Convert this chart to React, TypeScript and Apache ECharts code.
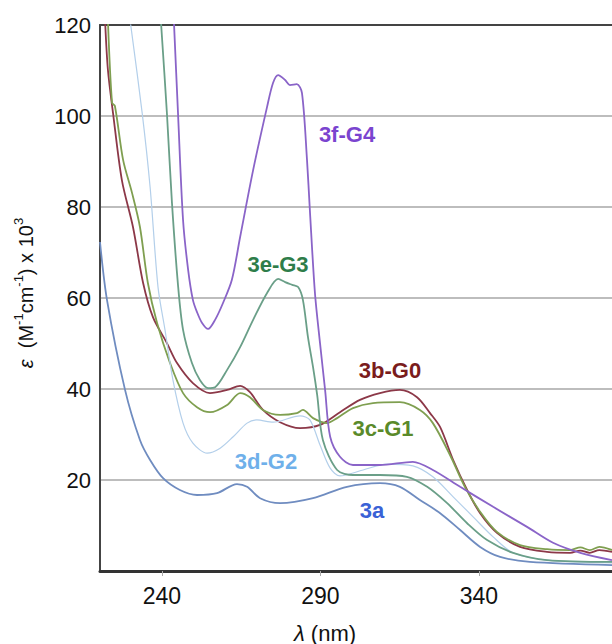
import React, { useEffect, useRef } from "react";
import * as echarts from "echarts";

const xTicks = [240, 290, 340];
const yTicks = [20, 40, 60, 80, 100, 120];

const s3a: [number, number][] = [
  [220.5, 72.3], [222.7, 59.6], [228.4, 39.8], [233.1, 28.8], [236.3, 24.4], [240.4, 20.4],
  [245.7, 17.8], [251.1, 16.7], [257.4, 17.1], [263.7, 19.1], [266.9, 18.5], [271.0, 16.0],
  [277.3, 14.9], [287.7, 16.0], [298.4, 18.5], [308.8, 19.3], [315.1, 18.5], [321.4, 15.6],
  [327.8, 12.7], [334.1, 9.0], [340.4, 5.3], [346.7, 3.1], [356.1, 2.0], [382, 1.3],
];
const s3b: [number, number][] = [
  [222.1, 121], [223.0, 110.1], [224.6, 100.7], [227.4, 85.9], [230.9, 75.6], [234.1, 63.3],
  [237.2, 55.8], [241.6, 50.1], [244.8, 45.7], [249.8, 41.3], [255.2, 39.1], [260.6, 39.8],
  [264.7, 40.7], [267.8, 39.3], [271.9, 35.4], [277.3, 32.7], [283.6, 31.4], [289.9, 32.1],
  [296.2, 34.9], [302.5, 37.6], [308.8, 39.1], [315.1, 39.8], [320.5, 38.2], [324.6, 34.7],
  [327.8, 31.6], [331.9, 24.4], [336.3, 17.8], [340.4, 12.7], [345.7, 8.4], [353.0, 5.3],
  [361.5, 4.2], [368.8, 4.0], [372, 4.5], [375, 4.0], [378, 4.6], [382, 4.2],
];
const s3c: [number, number][] = [
  [223.0, 121], [224.3, 102.9], [225.2, 102.2], [227.8, 90.3], [230.6, 83.1], [233.1, 75.6],
  [235.6, 63.3], [238.5, 54.5], [242.6, 45.7], [246.7, 39.1], [251.1, 36.0], [255.2, 34.9],
  [260.6, 36.5], [264.7, 39.1], [267.8, 38.2], [271.9, 35.4], [277.3, 34.3], [282.6, 34.7],
  [284.5, 35.4], [287.7, 33.6], [292.1, 32.5], [295.3, 33.6], [300.3, 35.8], [306.6, 36.9],
  [315.1, 37.1], [321.4, 35.4], [325.5, 32.5], [330.9, 25.5], [335.6, 18.5], [340.4, 13.0],
  [345.7, 8.6], [353.0, 5.7], [361.5, 4.8], [368.8, 4.6], [372, 5.2], [375, 4.6], [378, 5.3], [382, 4.6],
];
const s3d: [number, number][] = [
  [230.0, 121], [233.8, 100.7], [236.3, 84.4], [238.8, 62.4], [241.0, 53.0], [243.5, 42.0],
  [246.7, 32.5], [249.8, 28.1], [254.3, 25.9], [258.4, 27.0], [262.5, 29.5], [266.9, 32.5],
  [270.0, 33.2], [275.1, 32.7], [283.6, 34.1], [286.7, 33.2], [289.9, 27.7], [293.1, 22.6],
  [296.2, 20.9], [303.5, 22.2], [311.0, 23.5], [319.2, 23.1], [325.5, 20.7], [331.9, 16.3],
  [338.2, 11.9], [344.5, 7.5], [350.8, 4.0], [361.5, 2.4], [382, 1.8],
];
const s3e: [number, number][] = [
  [239.7, 121], [241.6, 100.7], [243.2, 80.9], [245.1, 62.9], [246.7, 53.0], [249.5, 45.7],
  [252.0, 42.0], [254.6, 40.2], [256.8, 40.4], [260.6, 44.2], [264.7, 49.2], [268.8, 55.2],
  [273.2, 61.1], [276.7, 64.2], [278.9, 63.5], [281.1, 62.9], [283.0, 62.4], [284.5, 59.6],
  [286.1, 51.4], [287.7, 44.8], [289.0, 38.7], [290.8, 28.8], [295.3, 22.2], [300.3, 21.1],
  [308.8, 21.1], [317.3, 20.7], [323.7, 18.5], [330.0, 14.9], [336.3, 10.5], [342.6, 6.8],
  [350.8, 4.0], [361.5, 2.4], [382, 2.0],
];
const s3f: [number, number][] = [
  [243.8, 121], [245.1, 100.7], [246.7, 77.1], [248.3, 66.2], [249.8, 59.6], [251.1, 56.9],
  [252.7, 54.5], [254.6, 53.2], [256.8, 55.2], [259.3, 58.9], [262.1, 64.0], [264.7, 73.4],
  [268.8, 88.1], [273.2, 102.0], [275.1, 107.3], [276.7, 109.0], [278.9, 107.9], [280.4, 106.8],
  [282.6, 107.0], [284.2, 105.1], [285.8, 90.3], [286.7, 79.3], [288.3, 61.1], [289.9, 50.1],
  [291.5, 39.8], [293.1, 29.5], [296.2, 25.1], [300.3, 23.3], [308.8, 23.3], [319.2, 24.0],
  [325.5, 22.2], [334.1, 18.5], [344.5, 14.1], [355.2, 9.7], [363.4, 6.2], [372.0, 4.0], [382, 2.4],
];

const seriesNames = ["3a", "3b-G0", "3c-G1", "3d-G2", "3e-G3", "3f-G4"];
const seriesData = [s3a, s3b, s3c, s3d, s3e, s3f];
const lineColors = ["#6f8cc0", "#8c3848", "#7f9f50", "#b3cfea", "#6a9f88", "#8a64c8"];
const labelColors = ["#3a62d6", "#7a1c1c", "#5a8a2a", "#6fb0ea", "#2e7d4a", "#7a44cf"];
const labelPos: [number, number][] = [
  [372, 510], [390, 370], [383, 428], [266, 461], [278, 264], [347, 134],
];

const FONT = "'Liberation Sans', Arial, Helvetica, sans-serif";

export default function App() {
  const ref = useRef<HTMLDivElement>(null);
  useEffect(() => {
    if (!ref.current) return;
    const chart = echarts.init(ref.current, null, { renderer: "svg" });
    const xMin = 220.5;
    const xMax = 382;
    const n = { fontSize: 22, fontFamily: FONT, fill: "#111", lineHeight: 30, verticalAlign: "middle" };
    const ny = { fontSize: 20, fontFamily: FONT, fill: "#111", lineHeight: 28, verticalAlign: "middle" };
    chart.setOption({
      animation: false,
      backgroundColor: "#ffffff",
      grid: { left: 100, right: 0, top: 25, bottom: 73 },
      xAxis: [
        {
          type: "value",
          min: xMin,
          max: xMax,
          axisLine: { show: true, onZero: false, lineStyle: { color: "#333", width: 3 } },
          axisTick: { show: true, customValues: xTicks, length: 5, lineStyle: { color: "#aaa", width: 1 } },
          axisLabel: {
            customValues: xTicks,
            fontSize: 23,
            color: "#111",
            fontFamily: FONT,
            margin: 13,
          },
          splitLine: { show: false },
        },
        {
          type: "value",
          position: "top",
          min: xMin,
          max: xMax,
          axisLine: { show: true, onZero: false, lineStyle: { color: "#444", width: 2 } },
          axisTick: { show: false },
          axisLabel: { show: false },
          splitLine: { show: false },
        },
      ],
      yAxis: {
        type: "value",
        min: 0,
        max: 120,
        interval: 20,
        axisLine: { show: true, onZero: false, lineStyle: { color: "#444", width: 2 } },
        axisTick: { show: false },
        axisLabel: {
          fontSize: 22,
          color: "#111",
          fontFamily: FONT,
          margin: 9,
          formatter: (v: number) => (yTicks.includes(v) ? String(v) : ""),
        },
        splitLine: { show: true, lineStyle: { color: "#bdbdbd", width: 2 } },
      },
      series: seriesData.map((d, i) => ({
        name: seriesNames[i],
        type: "line",
        data: d,
        xAxisIndex: 0,
        showSymbol: false,
        smooth: 0.3,
        clip: true,
        lineStyle: { color: lineColors[i], width: i === 3 ? 1.2 : 1.8 },
        z: 2,
      })),
      graphic: [
        ...seriesNames.map((nm, i) => ({
          type: "text",
          x: labelPos[i][0],
          y: labelPos[i][1],
          style: {
            text: nm,
            fill: labelColors[i],
            font: `bold 22px ${FONT}`,
            align: "center",
            verticalAlign: "middle",
          },
          z: 10,
        })),
        {
          type: "text",
          x: 325,
          y: 633,
          style: {
            text: "{i|λ}{n| (nm)}",
            align: "center",
            verticalAlign: "middle",
            fill: "#111",
            font: `22px ${FONT}`,
            rich: {
              i: { ...n, fontStyle: "italic" },
              n,
            },
          },
        },
        {
          type: "text",
          x: 26,
          y: 293,
          rotation: Math.PI / 2,
          style: {
            text: "{i|ε}{n|  (M}{s|-1}{n|cm}{s|-1}{n|) x 10}{s|3}",
            align: "center",
            verticalAlign: "middle",
            fill: "#111",
            font: `20px ${FONT}`,
            rich: {
              i: { ...ny, fontStyle: "italic" },
              n: ny,
              s: { fontSize: 13, fontFamily: FONT, fill: "#111", lineHeight: 14, verticalAlign: "top" },
            },
          },
        },
      ],
    });
    return () => chart.dispose();
  }, []);
  return <div ref={ref} style={{ width: 612, height: 644, position: "absolute", left: 0, top: 0 }} />;
}
